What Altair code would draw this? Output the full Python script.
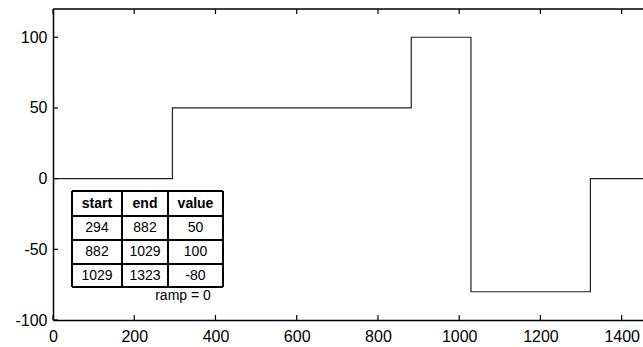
import altair as alt
import pandas as pd

# ---- data ----
step_x = [0, 294, 882, 1029, 1323, 1470]
step_y = [0, 50, 100, -80, 0, 0]
x_ticks = [0, 200, 400, 600, 800, 1000, 1200, 1400]
y_ticks = [-100, -50, 0, 50, 100]
headers = ["start", "end", "value"]
tbl_start = [294, 882, 1029]
tbl_end = [882, 1029, 1323]
tbl_value = [50, 100, -80]
ramp = 0

# ---- layout ----
W, H = 590, 311
XMAX = 1452.5
YMIN, YMAX = -100, 120
FONT = "Liberation Sans"
col_edges = [19, 69, 115, 170]
row_edges = [182, 207, 231, 255, 278]
LBL = "'' + datum.value"

xs = alt.Scale(domain=[0, XMAX], nice=False, zero=False)
ys = alt.Scale(domain=[YMIN, YMAX], nice=False, zero=False)
px = alt.Scale(domain=[0, W], range=[0, W], nice=False, zero=False)
py = alt.Scale(domain=[0, H], range=[0, H], nice=False, zero=False)

line_df = pd.DataFrame({"x": step_x, "y": step_y})
line = alt.Chart(line_df).mark_line(
    interpolate="step-after", color="#222222", strokeWidth=1.2, clip=True
).encode(
    x=alt.X("x:Q", scale=xs, axis=alt.Axis(
        values=x_ticks, tickSize=0, domainColor="black", domainWidth=1.5,
        labelFont=FONT, labelFontSize=16, labelColor="black", grid=False,
        title=None, labelPadding=8, labelFlush=False, labelOverlap=False,
        labelExpr=LBL)),
    y=alt.Y("y:Q", scale=ys, axis=alt.Axis(
        values=y_ticks, tickSize=0, domainColor="black", domainWidth=1.5,
        labelFont=FONT, labelFontSize=16, labelColor="black", grid=False,
        title=None, labelPadding=6, labelFlush=False, labelOverlap=False,
        labelExpr=LBL)),
)

xt_df = pd.DataFrame({"t": x_ticks})
yt_df = pd.DataFrame({"t": y_ticks})
bot_ticks = alt.Chart(xt_df).mark_rule(color="black", strokeWidth=1.2).encode(
    x=alt.X("t:Q", scale=xs, axis=None), y=alt.value(H), y2=alt.value(H - 5))
top_ticks = alt.Chart(xt_df).mark_rule(color="black", strokeWidth=1.2).encode(
    x=alt.X("t:Q", scale=xs, axis=None), y=alt.value(0), y2=alt.value(5))
left_ticks = alt.Chart(yt_df).mark_rule(color="black", strokeWidth=1.2).encode(
    y=alt.Y("t:Q", scale=ys, axis=None), x=alt.value(0), x2=alt.value(5))
top_border = alt.Chart(pd.DataFrame({"a": [0]})).mark_rule(
    color="black", strokeWidth=1.5).encode(
    x=alt.value(0), x2=alt.value(W), y=alt.value(0))

# table
cells = []
rows = [headers] + [[str(a), str(b), str(c)] for a, b, c in zip(tbl_start, tbl_end, tbl_value)]
for r, row in enumerate(rows):
    for c, txt in enumerate(row):
        cells.append({
            "cx": (col_edges[c] + col_edges[c + 1]) / 2,
            "cy": (row_edges[r] + row_edges[r + 1]) / 2,
            "txt": txt,
            "bold": r == 0,
        })
cells_df = pd.DataFrame(cells)

bg = alt.Chart(pd.DataFrame({"x0": [col_edges[0]], "x1": [col_edges[-1]],
                             "y0": [row_edges[0]], "y1": [row_edges[-1]]})).mark_rect(
    fill="white").encode(
    x=alt.X("x0:Q", scale=px, axis=None), x2="x1:Q",
    y=alt.Y("y0:Q", scale=py, axis=None), y2="y1:Q")

hl = alt.Chart(pd.DataFrame({"y": row_edges, "x0": col_edges[0], "x1": col_edges[-1]})).mark_rule(
    color="black", strokeWidth=2).encode(
    y=alt.Y("y:Q", scale=py, axis=None),
    x=alt.X("x0:Q", scale=px, axis=None), x2="x1:Q")
vl = alt.Chart(pd.DataFrame({"x": col_edges, "y0": row_edges[0], "y1": row_edges[-1]})).mark_rule(
    color="black", strokeWidth=2).encode(
    x=alt.X("x:Q", scale=px, axis=None),
    y=alt.Y("y0:Q", scale=py, axis=None), y2="y1:Q")

txt_norm = alt.Chart(cells_df[~cells_df.bold]).mark_text(
    font=FONT, fontSize=14, color="black", align="center", baseline="middle").encode(
    x=alt.X("cx:Q", scale=px, axis=None), y=alt.Y("cy:Q", scale=py, axis=None),
    text="txt:N")
txt_bold = alt.Chart(cells_df[cells_df.bold]).mark_text(
    font=FONT, fontSize=14, fontWeight="bold", color="black", align="center",
    baseline="middle").encode(
    x=alt.X("cx:Q", scale=px, axis=None), y=alt.Y("cy:Q", scale=py, axis=None),
    text="txt:N")
ramp_txt = alt.Chart(pd.DataFrame({"x": [130], "y": [287], "t": [f"ramp = {ramp}"]})).mark_text(
    font=FONT, fontSize=14, color="black", align="center", baseline="middle").encode(
    x=alt.X("x:Q", scale=px, axis=None), y=alt.Y("y:Q", scale=py, axis=None),
    text="t:N")

chart = alt.layer(
    line, bot_ticks, top_ticks, left_ticks, top_border,
    bg, hl, vl, txt_norm, txt_bold, ramp_txt
).resolve_scale(x="independent", y="independent").properties(
    width=W, height=H,
    autosize=alt.AutoSizeParams(type="none"),
    padding={"left": 53, "top": 9, "right": 0, "bottom": 27},
    background="white",
).configure_view(stroke=None)

chart.save("out.html", embed_options={"renderer": "svg", "actions": False})
